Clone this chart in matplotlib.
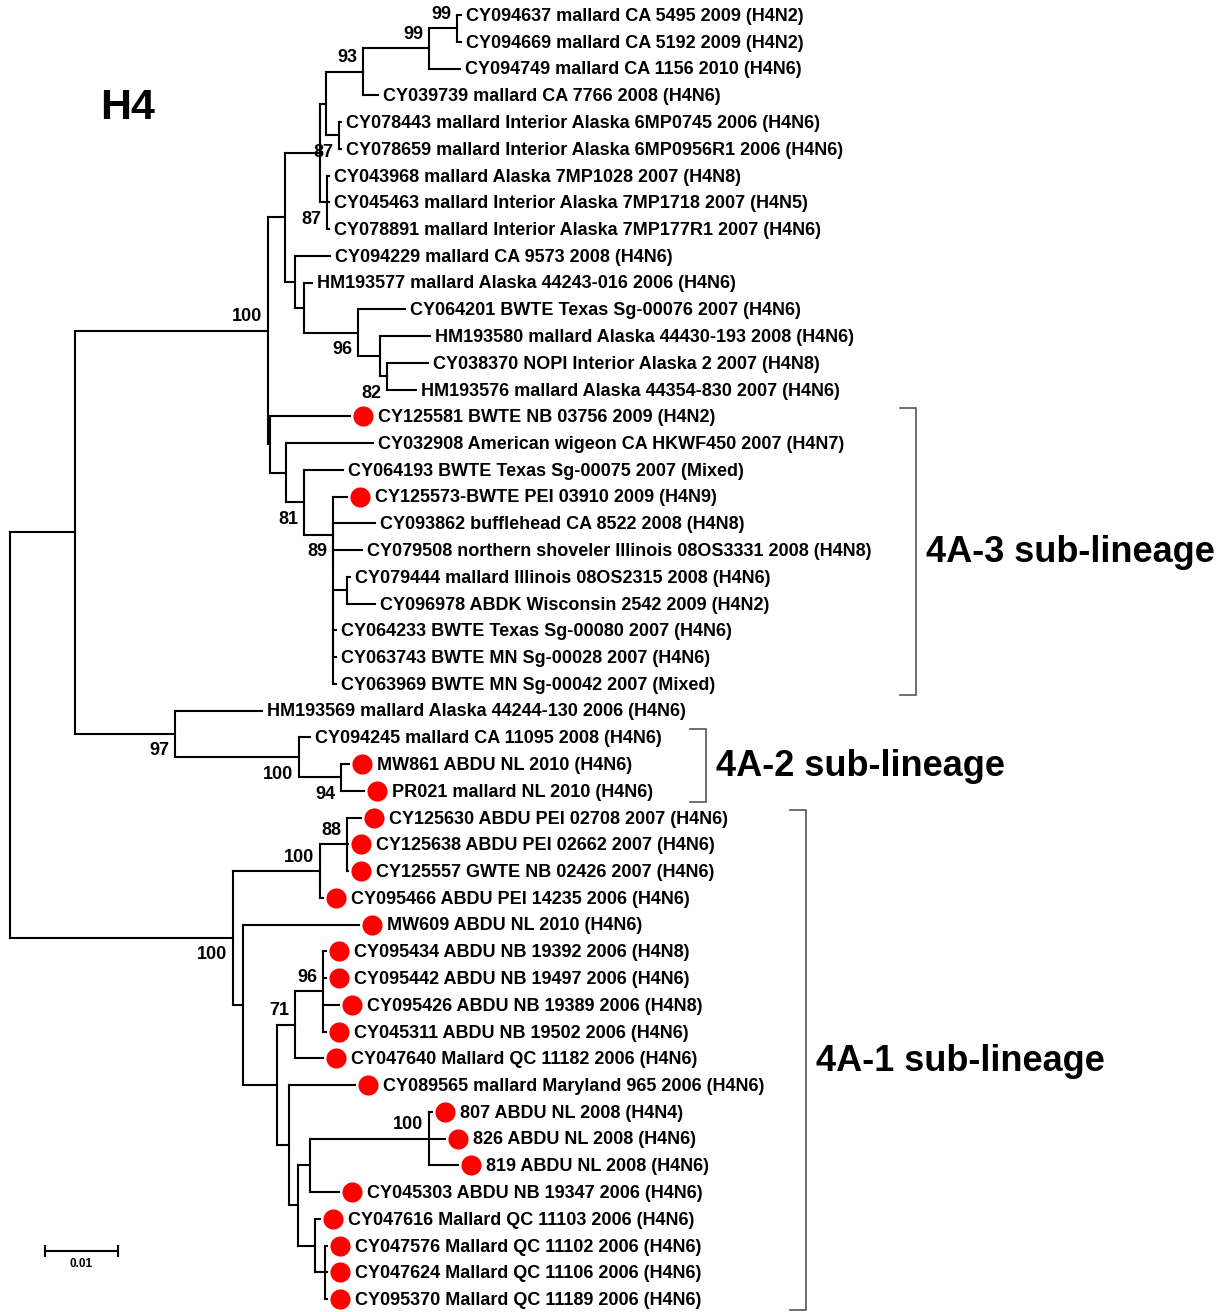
import matplotlib
matplotlib.use("Agg")
import matplotlib.pyplot as plt
from matplotlib.collections import LineCollection

plt.rcParams['font.family'] = ['Liberation Sans', 'DejaVu Sans']

# tip labels, top to bottom
LEAVES = [
    "CY094637 mallard CA 5495 2009 (H4N2)",
    "CY094669 mallard CA 5192 2009 (H4N2)",
    "CY094749 mallard CA 1156 2010 (H4N6)",
    "CY039739 mallard CA 7766 2008 (H4N6)",
    "CY078443 mallard Interior Alaska 6MP0745 2006 (H4N6)",
    "CY078659 mallard Interior Alaska 6MP0956R1 2006 (H4N6)",
    "CY043968 mallard Alaska 7MP1028 2007 (H4N8)",
    "CY045463 mallard Interior Alaska 7MP1718 2007 (H4N5)",
    "CY078891 mallard Interior Alaska 7MP177R1 2007 (H4N6)",
    "CY094229 mallard CA 9573 2008 (H4N6)",
    "HM193577 mallard Alaska 44243-016 2006 (H4N6)",
    "CY064201 BWTE Texas Sg-00076 2007 (H4N6)",
    "HM193580 mallard Alaska 44430-193 2008 (H4N6)",
    "CY038370 NOPI Interior Alaska 2 2007 (H4N8)",
    "HM193576 mallard Alaska 44354-830 2007 (H4N6)",
    "CY125581 BWTE NB 03756 2009 (H4N2)",
    "CY032908 American wigeon CA HKWF450 2007 (H4N7)",
    "CY064193 BWTE Texas Sg-00075 2007 (Mixed)",
    "CY125573-BWTE PEI 03910 2009 (H4N9)",
    "CY093862 bufflehead CA 8522 2008 (H4N8)",
    "CY079508 northern shoveler Illinois 08OS3331 2008 (H4N8)",
    "CY079444 mallard Illinois 08OS2315 2008 (H4N6)",
    "CY096978 ABDK Wisconsin 2542 2009 (H4N2)",
    "CY064233 BWTE Texas Sg-00080 2007 (H4N6)",
    "CY063743 BWTE MN Sg-00028 2007 (H4N6)",
    "CY063969 BWTE MN Sg-00042 2007 (Mixed)",
    "HM193569 mallard Alaska 44244-130 2006 (H4N6)",
    "CY094245 mallard CA 11095 2008 (H4N6)",
    "MW861 ABDU NL 2010 (H4N6)",
    "PR021 mallard NL 2010 (H4N6)",
    "CY125630 ABDU PEI 02708 2007 (H4N6)",
    "CY125638 ABDU PEI 02662 2007 (H4N6)",
    "CY125557 GWTE NB 02426 2007 (H4N6)",
    "CY095466 ABDU PEI 14235 2006 (H4N6)",
    "MW609 ABDU NL 2010 (H4N6)",
    "CY095434 ABDU NB 19392 2006 (H4N8)",
    "CY095442 ABDU NB 19497 2006 (H4N6)",
    "CY095426 ABDU NB 19389 2006 (H4N8)",
    "CY045311 ABDU NB 19502 2006 (H4N6)",
    "CY047640 Mallard QC 11182 2006 (H4N6)",
    "CY089565 mallard Maryland 965 2006 (H4N6)",
    "807 ABDU NL 2008 (H4N4)",
    "826 ABDU NL 2008 (H4N6)",
    "819 ABDU NL 2008 (H4N6)",
    "CY045303 ABDU NB 19347 2006 (H4N6)",
    "CY047616 Mallard QC 11103 2006 (H4N6)",
    "CY047576 Mallard QC 11102 2006 (H4N6)",
    "CY047624 Mallard QC 11106 2006 (H4N6)",
    "CY095370 Mallard QC 11189 2006 (H4N6)",
]

# tips marked with a red dot
MARKED = [15, 18, 28, 29] + list(range(30, 49))

# topology with branch lengths (substitutions/site) and bootstrap values; tips are LEAVES indices
TREE = """
(((((((((0:0.00055,1:0.00055)99:0.00384,2:0.00425)99:0.00904,3:0.00205)93:0.00507,
(4:0.00027,5:0.00027)87:0.00178):0.00082,
(6:0.00027,7:0.00027,8:0.00027)87:0.00096):0.00479,
(9:0.00479,(10:0.00110,(11:0.00644,(12:0.00685,(13:0.00562,14:0.00397)82:0.00096):0.00301)96:0.00740):0.00123):0.00137):0.00233,
(15:0.01096,(16:0.01192,(17:0.00534,(18:0.00192,(19:0.00575,20:0.00397,((21:0.00041,22:0.00384):0.00192,
(23:0.00041,24:0.00041,25:0.00041):0):0):0)89:0.00397)81:0.00247):0.00219):0.00027)100:0.02644,
(26:0.01192,(27:0.00151,(28:0.00110,29:0.00315)94:0.00575)100:0.01699)97:0.01370):0.00890,
(((30:0.00192,31:0.00014,32:0.00014)88:0.00370,33:0.00041)100:0.01192,
(34:0.01589,(((35:0.00041,36:0.00041,37:0.00219,38:0.00041)96:0.00384,39:0.00384)71:0.00247,
(40:0.00904,(((41:0.00041,42:0.00219,43:0.00397)100:0.01630,44:0.00397):0.00164,
(45:0.00068,(46:0.00027,47:0.00027,48:0.00027):0.00137):0.00233):0.00123):0.00164):0.00466):0.00137)100:0.03055);
"""

# clade brackets: (label, first tip, last tip)
CLADES = [
    ("4A-3 sub-lineage", 15, 25),
    ("4A-2 sub-lineage", 27, 29),
    ("4A-1 sub-lineage", 30, 48),
]
SCALE_LEN = 0.01


def parse_newick(s):
    s = "".join(s.split()).rstrip(";")
    pos = 0

    def node():
        nonlocal pos
        kids = []
        if s[pos] == "(":
            pos += 1
            while True:
                kids.append(node())
                if s[pos] == ",":
                    pos += 1
                    continue
                pos += 1  # ')'
                break
        start = pos
        while pos < len(s) and s[pos] not in ":,)":
            pos += 1
        name = s[start:pos]
        length = 0.0
        if pos < len(s) and s[pos] == ":":
            pos += 1
            start = pos
            while pos < len(s) and s[pos] not in ",)":
                pos += 1
            length = float(s[start:pos])
        return {"name": name, "len": length, "kids": kids}

    return node()


def layout(nd, x0=0.0):
    nd["x"] = x0 + nd["len"]
    if not nd["kids"]:
        nd["y"] = int(nd["name"])
    else:
        for k in nd["kids"]:
            layout(k, nd["x"])
        nd["y"] = (nd["kids"][0]["y"] + nd["kids"][-1]["y"]) / 2
    return nd


root = layout(parse_newick(TREE))

# pixel geometry of the page: 0.01 subst. = 73 px, tips 26.75 px apart
W, H = 1225, 1312
UX = 7300.0
X0, Y0, DY = 10, 15, 26.75
px = lambda p: p / UX          # horizontal pixel distance -> data units
py = lambda p: p / DY          # vertical pixel distance -> tip units
TXT_DY = py(1.5)               # small nudge so text sits on the branch

fig = plt.figure(figsize=(W / 100, H / 100), dpi=100)
ax = fig.add_axes([0, 0, 1, 1])
ax.set_xlim(-X0 / UX, (W - X0) / UX)
ax.set_ylim((H - Y0) / DY, -Y0 / DY)
ax.axis("off")

segs = []
boot = []
tips = []


def walk(nd, is_first):
    if not nd["kids"]:
        tips.append(nd)
        return
    ys = [k["y"] for k in nd["kids"]]
    segs.append([(nd["x"], min(ys)), (nd["x"], max(ys))])
    for i, k in enumerate(nd["kids"]):
        segs.append([(nd["x"], k["y"]), (k["x"], k["y"])])
        walk(k, i == 0)
    if nd["name"]:
        boot.append((nd["x"], nd["y"], nd["name"], is_first))


walk(root, True)
ax.add_collection(LineCollection(segs, colors="black", linewidths=1.5, capstyle="projecting"))

for x, y, lab, above in boot:
    dy = -py(14) if above else py(17)
    ax.text(x - px(6), y + dy, lab, ha="right", va="center", fontsize=13,
            fontweight="bold", color="black")

dot_x, dot_y = [], []
for t in tips:
    i = int(t["name"])
    if i in MARKED:
        dot_x.append(t["x"] + px(13))
        dot_y.append(t["y"])
        lx = t["x"] + px(28)
    else:
        lx = t["x"] + px(5)
    ax.text(lx, t["y"] + TXT_DY, LEAVES[i], ha="left", va="center", fontsize=13,
            fontweight="bold", color="black")
ax.plot(dot_x, dot_y, "o", color="#ff0000", markersize=14.5, markeredgewidth=0)

# clade brackets
bracket_px = [916, 706, 806]
for (name, a, b), bx in zip(CLADES, bracket_px):
    xb = px(bx - X0)
    top, bot = a - py(8), b + py(11)
    ax.plot([xb - px(16), xb, xb, xb - px(16)], [top, top, bot, bot],
            color="#555555", lw=1.2, solid_joinstyle="miter")
    ax.text(xb + px(10), (top + bot) / 2 + TXT_DY, name, ha="left", va="center",
            fontsize=26, fontweight="bold", color="black")

# panel title
ax.text(px(100 - X0), py(108 - Y0), "H4", ha="left", va="center",
        fontsize=31, fontweight="bold", color="black")

# scale bar
sx0, sy = px(45 - X0), py(1251 - Y0)
ax.plot([sx0, sx0 + SCALE_LEN], [sy, sy], color="black", lw=1.5)
for xx in (sx0, sx0 + SCALE_LEN):
    ax.plot([xx, xx], [sy - py(5), sy + py(5)], color="black", lw=1.5)
ax.text(sx0 + SCALE_LEN / 2, sy + py(13), "0.01", ha="center", va="center",
        fontsize=8.5, fontweight="bold", color="black")

fig.savefig("out.png", dpi=100)
